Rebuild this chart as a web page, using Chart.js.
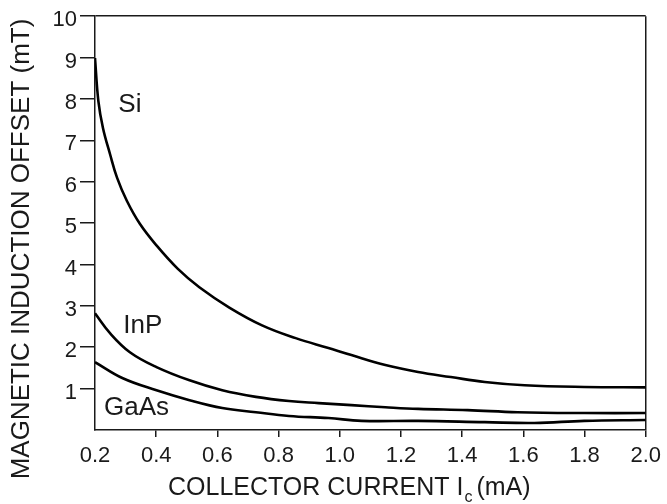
<!DOCTYPE html>
<html>
<head>
<meta charset="utf-8">
<script src="https://cdn.jsdelivr.net/npm/chart.js@4.4.1/dist/chart.umd.min.js"></script>
<style>
  html, body { margin: 0; padding: 0; background: #fff; }
  #wrap { width: 667px; height: 504px; }
</style>
</head>
<body>
<div id="wrap"><canvas id="offset-chart" width="667" height="504"></canvas></div>
<script>
// Magnetic induction offset vs collector current
const siX = [0.200, 0.211, 0.226, 0.249, 0.272, 0.304, 0.346, 0.401, 0.470, 0.541, 0.639, 0.746, 0.856, 0.963, 1.038, 1.149, 1.256, 1.363, 1.474, 1.604, 1.799, 2.000];
const siY = [8.99, 7.95, 7.30, 6.67, 6.10, 5.54, 4.99, 4.46, 3.90, 3.45, 2.96, 2.53, 2.22, 1.98, 1.81, 1.57, 1.40, 1.28, 1.16, 1.08, 1.04, 1.03];

const inpX = [0.200, 0.249, 0.314, 0.401, 0.509, 0.616, 0.726, 0.834, 0.931, 1.038, 1.149, 1.256, 1.418, 1.581, 1.799, 2.000];
const inpY = [2.82, 2.34, 1.88, 1.52, 1.20, 0.96, 0.80, 0.70, 0.65, 0.60, 0.55, 0.51, 0.48, 0.43, 0.41, 0.41];

const gaasX = [0.200, 0.291, 0.401, 0.509, 0.616, 0.726, 0.834, 0.963, 1.071, 1.256, 1.474, 1.636, 1.799, 2.000];
const gaasY = [1.64, 1.25, 0.96, 0.72, 0.53, 0.43, 0.34, 0.29, 0.22, 0.22, 0.19, 0.17, 0.22, 0.24];

const seriesNames = ['Si', 'InP', 'GaAs'];
// label anchor points in data units
const nameX = [0.314, 0.356, 0.336];
const nameY = [7.86, 2.51, 0.53];

const xTitle = 'COLLECTOR CURRENT I';
const xTitleSub = 'c';
const xTitleUnit = '(mA)';
const yTitle = 'MAGNETIC INDUCTION OFFSET (mT)';

const FONT = '"Liberation Sans", Arial, Helvetica, sans-serif';
const INK = '#1a1a1a';

function toPoints(xs, ys) {
  return xs.map((x, i) => ({ x, y: ys[i] }));
}

// curve names + axis titles
const textPlugin = {
  id: 'textPlugin',
  afterDraw(chart) {
    const { ctx, scales } = chart;
    ctx.save();
    ctx.fillStyle = INK;

    // series names
    ctx.font = '26px ' + FONT;
    ctx.textAlign = 'center';
    ctx.textBaseline = 'middle';
    seriesNames.forEach((name, i) => {
      ctx.fillText(name, scales.x.getPixelForValue(nameX[i]), scales.y.getPixelForValue(nameY[i]));
    });

    // y title
    ctx.save();
    ctx.translate(22, 249);
    ctx.rotate(-Math.PI / 2);
    ctx.font = '26px ' + FONT;
    ctx.textAlign = 'center';
    ctx.textBaseline = 'middle';
    ctx.fillText(yTitle, 0, 0);
    ctx.restore();

    // x title with subscript
    ctx.textAlign = 'left';
    ctx.textBaseline = 'alphabetic';
    let x = 168;
    ctx.font = '25px ' + FONT;
    ctx.fillText(xTitle, x, 495);
    x += ctx.measureText(xTitle).width + 1;
    ctx.font = '16px ' + FONT;
    ctx.fillText(xTitleSub, x, 502);
    x += ctx.measureText(xTitleSub).width + 4;
    ctx.font = '25px ' + FONT;
    ctx.fillText(xTitleUnit, x, 495);

    ctx.restore();
  },
};

const lineStyle = {
  borderColor: '#000',
  borderWidth: 2.6,
  pointRadius: 0,
  fill: false,
  tension: 0.4,
};

new Chart(document.getElementById('offset-chart'), {
  type: 'line',
  data: {
    datasets: [
      { label: 'Si', data: toPoints(siX, siY), ...lineStyle },
      { label: 'InP', data: toPoints(inpX, inpY), ...lineStyle },
      { label: 'GaAs', data: toPoints(gaasX, gaasY), ...lineStyle },
    ],
  },
  options: {
    responsive: false,
    animation: false,
    layout: { padding: { top: 15, right: 18, left: 0, bottom: 0 } },
    plugins: {
      legend: { display: false },
      tooltip: { enabled: false },
    },
    scales: {
      x: {
        type: 'linear',
        min: 0.2,
        max: 2.0,
        afterFit: (scale) => { scale.height = 74; },
        border: { display: true, color: INK, width: 1.5 },
        grid: {
          drawTicks: true,
          tickLength: 7,
          lineWidth: 1.5,
          color: (c) => (Math.abs(c.tick.value - 2.0) < 1e-6 ? INK : 'rgba(0,0,0,0)'),
          tickColor: (c) => (Math.abs(c.tick.value - 0.2) < 1e-6 ? 'rgba(0,0,0,0)' : INK),
        },
        ticks: {
          stepSize: 0.2,
          autoSkip: false,
          maxRotation: 0,
          padding: 6,
          color: INK,
          font: { family: FONT, size: 22 },
          callback: (v) => Number(v).toFixed(1),
        },
      },
      y: {
        type: 'linear',
        min: 0,
        max: 10,
        afterFit: (scale) => { scale.width = 95; },
        border: { display: true, color: INK, width: 1.5 },
        grid: {
          drawTicks: true,
          tickLength: 15,
          lineWidth: 1.5,
          color: (c) => (c.tick.value === 10 ? INK : 'rgba(0,0,0,0)'),
          tickColor: (c) => (c.tick.value === 0 ? 'rgba(0,0,0,0)' : INK),
        },
        ticks: {
          stepSize: 1,
          padding: 3,
          labelOffset: 4,
          color: INK,
          font: { family: FONT, size: 22 },
          callback: (v) => (v === 0 ? '' : String(v)),
        },
      },
    },
  },
  plugins: [textPlugin],
});
</script>
</body>
</html>
